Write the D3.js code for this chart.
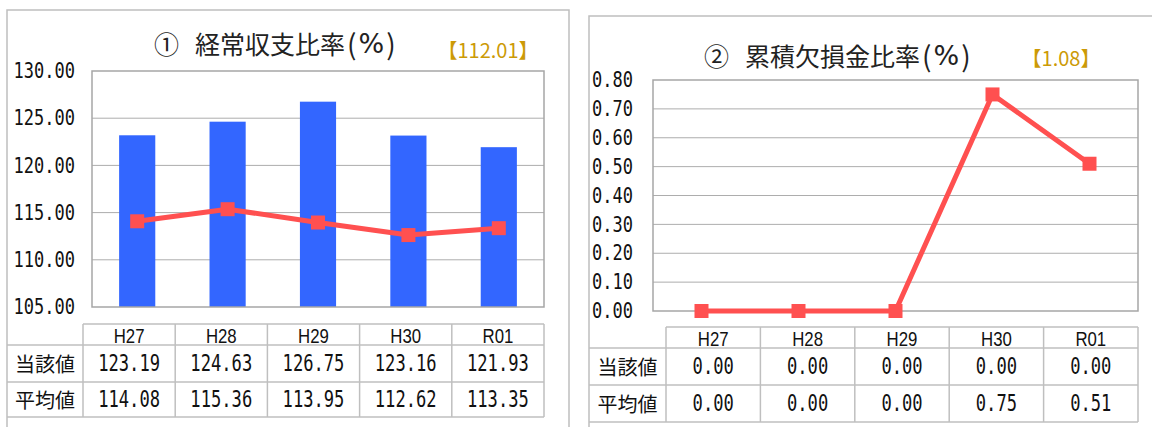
<!DOCTYPE html>
<html>
<head>
<meta charset="utf-8">
<script src="https://cdn.jsdelivr.net/npm/d3@7/dist/d3.min.js"></script>
<style>
  html, body { margin: 0; padding: 0; background: #fff; }
  svg { display: block; }
</style>
</head>
<body>
<svg id="chart" width="1152" height="427"></svg>
<script>
// ---------- data ----------
const categories = ["H27", "H28", "H29", "H30", "R01"];
const rowLabels = ["当該値", "平均値"];

const ordinaryTitle = ["①", "経常収支比率", "(%)"];
const ordinaryNote = "【112.01】";
const ordinaryValues = [123.19, 124.63, 126.75, 123.16, 121.93];
const ordinaryAverage = [114.08, 115.36, 113.95, 112.62, 113.35];
const ordinaryTicks = [105, 110, 115, 120, 125, 130];

const deficitTitle = ["②", "累積欠損金比率", "(%)"];
const deficitNote = "【1.08】";
const deficitValues = [0, 0, 0, 0, 0];
const deficitAverage = [0, 0, 0, 0.75, 0.51];
const deficitTicks = [0, 0.1, 0.2, 0.3, 0.4, 0.5, 0.6, 0.7, 0.8];

// ---------- styles ----------
const BAR = "#3366FF";
const LINE = "#FF5050";
const GOLD = "#CC9A06";
const OUTER = "#BFBFBF";
const FRAME = "#A6A6A6";
const GRID = "#ADADAD";
const TABLE = "#BFBFBF";
const MONO = "'DejaVu Sans Mono', 'Liberation Mono', monospace";
const SANS = "'Liberation Sans', Arial, sans-serif";
const CJK = "'Noto Sans CJK JP', 'Noto Sans', sans-serif";
const fmt = d3.format(".2f");

const svg = d3.select("#chart");

// text helper with horizontal compression (tall narrow glyphs)
function sText(parent, x, y, str, opts) {
  const g = parent.append("g")
    .attr("transform", `translate(${x},${y}) scale(${opts.sx || 1},1)`);
  g.append("text")
    .attr("x", 0).attr("y", 0)
    .attr("text-anchor", opts.anchor || "middle")
    .attr("dominant-baseline", "central")
    .style("font-family", opts.font)
    .style("font-size", opts.size + "px")
    .style("fill", opts.fill || "#111")
    .text(str);
  return g;
}

function title(parent, x, y, parts) {
  const t = parent.append("text")
    .attr("x", x).attr("y", y)
    .attr("dominant-baseline", "central")
    .style("font-family", CJK)
    .style("fill", "#222");
  t.append("tspan").style("font-size", "25px").text(parts[0]);
  t.append("tspan").attr("dx", 16).style("font-size", "25px").text(parts[1]);
  const p = parts[2];
  t.append("tspan").attr("dx", 2).style("font-size", "28px").text(p[0]);
  t.append("tspan").attr("dx", 2).style("font-size", "27px")
    .style("font-family", "'DejaVu Sans', sans-serif").text(p[1]);
  t.append("tspan").attr("dx", 2).style("font-size", "28px").text(p[2]);
}

function panel(cfg) {
  const g = svg.append("g");

  g.append("path")
    .attr("d", cfg.outerPath)
    .attr("fill", "none").attr("stroke", OUTER).attr("stroke-width", 1.5);

  title(g, cfg.titleX, cfg.titleY, cfg.title);
  sText(g, cfg.noteX, cfg.noteY, cfg.note, { font: CJK, size: 20, fill: GOLD });

  const x = d3.scaleBand().domain(categories).range([cfg.plot.x0, cfg.plot.x1]).padding(0);
  const y = d3.scaleLinear().domain([cfg.ticks[0], cfg.ticks[cfg.ticks.length - 1]])
    .range([cfg.plot.y1, cfg.plot.y0]);

  g.append("g").selectAll("line")
    .data(cfg.ticks.slice(1, -1))
    .join("line")
    .attr("x1", cfg.plot.x0).attr("x2", cfg.plot.x1)
    .attr("y1", d => y(d)).attr("y2", d => y(d))
    .attr("stroke", GRID).attr("stroke-width", 1);

  cfg.ticks.forEach(t => {
    sText(g, cfg.labelRight, y(t), fmt(t), { font: MONO, size: 21, sx: 0.81, anchor: "end", fill: "#111" });
  });

  const bw = x.bandwidth() * 0.4;
  const base = y.domain()[0];
  g.append("g").selectAll("rect")
    .data(cfg.values.map((v, i) => ({ c: categories[i], v })))
    .join("rect")
    .attr("x", d => x(d.c) + x.bandwidth() / 2 - bw / 2)
    .attr("width", bw)
    .attr("y", d => y(Math.max(d.v, base)))
    .attr("height", d => y(base) - y(Math.max(d.v, base)))
    .attr("fill", BAR);

  g.append("rect")
    .attr("x", cfg.plot.x0).attr("y", cfg.plot.y0)
    .attr("width", cfg.plot.x1 - cfg.plot.x0).attr("height", cfg.plot.y1 - cfg.plot.y0)
    .attr("fill", "none").attr("stroke", FRAME).attr("stroke-width", 1.5);

  const pts = cfg.average.map((v, i) => [x(categories[i]) + x.bandwidth() / 2, y(v)]);
  g.append("path")
    .attr("d", d3.line()(pts))
    .attr("fill", "none").attr("stroke", LINE).attr("stroke-width", 5)
    .attr("stroke-linejoin", "round");
  const ms = 14;
  g.append("g").selectAll("rect")
    .data(pts)
    .join("rect")
    .attr("x", d => d[0] - ms / 2).attr("y", d => d[1] - ms / 2)
    .attr("width", ms).attr("height", ms)
    .attr("fill", LINE);

  const t = cfg.table;
  const colX = d3.scaleBand().domain(categories).range([t.x0, t.x1]);
  const tg = g.append("g").attr("stroke", TABLE).attr("stroke-width", 1.5);
  tg.append("line").attr("x1", t.x0).attr("x2", t.x1).attr("y1", t.rows[0]).attr("y2", t.rows[0]);
  t.rows.slice(1).forEach(ry => {
    tg.append("line").attr("x1", t.labelX0).attr("x2", t.x1).attr("y1", ry).attr("y2", ry);
  });
  categories.forEach(c => {
    tg.append("line").attr("x1", colX(c)).attr("x2", colX(c))
      .attr("y1", t.rows[0]).attr("y2", t.rows[3]);
  });
  tg.append("line").attr("x1", t.x1).attr("x2", t.x1).attr("y1", t.rows[0]).attr("y2", t.rows[3]);

  categories.forEach(c => {
    sText(g, colX(c) + colX.bandwidth() / 2, (t.rows[0] + t.rows[1]) / 2 + 1, c,
      { font: SANS, size: 21, sx: 0.8 });
  });
  const series = [cfg.values, cfg.average];
  rowLabels.forEach((lab, r) => {
    const cy = (t.rows[r + 1] + t.rows[r + 2]) / 2;
    sText(g, (t.labelX0 + t.x0) / 2, cy, lab, { font: CJK, size: 20 });
    series[r].forEach((v, i) => {
      sText(g, colX(categories[i]) + colX.bandwidth() / 2, cy, fmt(v),
        { font: MONO, size: 23, sx: 0.745 });
    });
  });
}

panel({
  outerPath: "M7,430 L7,10 L569,10 L569,430",
  title: ordinaryTitle, titleX: 154, titleY: 43,
  note: ordinaryNote, noteX: 488, noteY: 49,
  plot: { x0: 92, x1: 544, y0: 71, y1: 307 },
  ticks: ordinaryTicks, labelRight: 75,
  values: ordinaryValues, average: ordinaryAverage,
  table: { x0: 83, x1: 544, labelX0: 7, rows: [324, 345, 382, 417] }
});

panel({
  outerPath: "M589,430 L589,16 L1160,16",
  title: deficitTitle, titleX: 704, titleY: 55,
  note: deficitNote, noteX: 1061, noteY: 57,
  plot: { x0: 653, x1: 1138, y0: 80, y1: 311 },
  ticks: deficitTicks, labelRight: 633,
  values: deficitValues, average: deficitAverage,
  table: { x0: 666, x1: 1138, labelX0: 589, rows: [327, 348, 385, 422] }
});
</script>
</body>
</html>
